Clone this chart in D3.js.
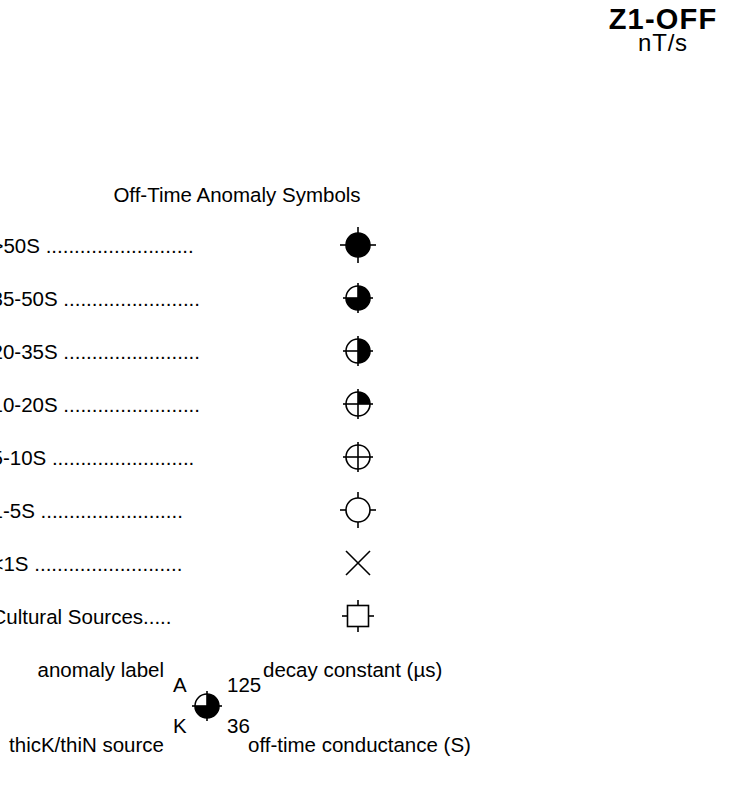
<!DOCTYPE html>
<html>
<head>
<meta charset="utf-8">
<script src="https://cdn.jsdelivr.net/npm/d3@7"></script>
<style>
  html, body { margin: 0; padding: 0; background: #fff; }
  svg { display: block; }
  text { font-family: "Liberation Sans", Arial, Helvetica, sans-serif; fill: #000; }
</style>
</head>
<body>
<script>
// Off-time anomaly legend for the Z1-OFF channel
const channelName = "Z1-OFF";
const channelUnits = "nT/s";
const legendTitle = "Off-Time Anomaly Symbols";

// conductance classes, leader dots after each label, and the symbol drawn for each
const conductanceClasses = [">50S", "35-50S", "20-35S", "10-20S", "5-10S", "1-5S", "<1S", "Cultural Sources"];
const leaderDots = [26, 24, 24, 24, 25, 25, 26, 5];
const symbolKinds = ["full", "threeQuarter", "half", "quarter", "cross", "ring", "x", "square"];

// annotated example anomaly
const exampleLabel = "A";
const exampleSource = "K";
const exampleDecay = 125;
const exampleConductance = 36;
const exampleKind = "threeQuarter";
const exampleNotes = ["anomaly label", "decay constant (\u00b5s)", "thicK/thiN source", "off-time conductance (S)"];

const W = 750, H = 798;
const svg = d3.select("body").append("svg").attr("width", W).attr("height", H);

const FS = 20.5;
const R = 12;          // symbol radius
const SW = 1.6;        // symbol stroke width

// row positions
const yRow = d3.scalePoint().domain(conductanceClasses).range([245, 616]);
const symbolX = 358;

// header
svg.append("text").attr("x", 663).attr("y", 29).attr("text-anchor", "middle")
  .style("font-size", "29px").style("font-weight", "bold").style("letter-spacing", "1.2px")
  .text(channelName);
svg.append("text").attr("x", 663).attr("y", 51).attr("text-anchor", "middle")
  .style("font-size", "24px").style("letter-spacing", "0.8px").text(channelUnits);

svg.append("text").attr("x", 237).attr("y", 202).attr("text-anchor", "middle")
  .style("font-size", FS + "px").text(legendTitle);

// filled fraction of each circle symbol (d3.arc angles, clockwise from 12 o'clock)
const fillSpan = {
  full: [0, 2 * Math.PI],
  threeQuarter: [0, 1.5 * Math.PI],
  half: [0, Math.PI],
  quarter: [0, 0.5 * Math.PI],
  cross: null,
  ring: null
};

function drawSymbol(g, kind) {
  const stroke = (sel) => sel.attr("stroke", "#000").attr("stroke-width", SW).attr("fill", "none");
  if (kind === "x") {
    const d = 12;
    stroke(g.append("line").attr("x1", -d).attr("y1", -d).attr("x2", d).attr("y2", d));
    stroke(g.append("line").attr("x1", -d).attr("y1", d).attr("x2", d).attr("y2", -d));
    return;
  }
  if (kind === "square") {
    const h = 10.5, t = 16;
    g.append("rect").attr("x", -h).attr("y", -h).attr("width", 2 * h).attr("height", 2 * h)
      .attr("fill", "#fff").attr("stroke", "#000").attr("stroke-width", SW);
    [[-t, 0, -h, 0], [h, 0, t, 0], [0, -t, 0, -h], [0, h, 0, t]].forEach(([a, b, c, e]) =>
      stroke(g.append("line").attr("x1", a).attr("y1", b).attr("x2", c).attr("y2", e)));
    return;
  }
  // circle based symbols
  g.append("circle").attr("r", R).attr("fill", "#fff");
  const span = fillSpan[kind];
  if (span) {
    g.append("path").attr("fill", "#000")
      .attr("d", d3.arc()({ innerRadius: 0, outerRadius: R, startAngle: span[0], endAngle: span[1] }));
  }
  if (kind === "full" || kind === "ring") {
    const t = 18;
    [[-t, 0, -R, 0], [R, 0, t, 0], [0, -t, 0, -R], [0, R, 0, t]].forEach(([a, b, c, e]) =>
      stroke(g.append("line").attr("x1", a).attr("y1", b).attr("x2", c).attr("y2", e)));
  } else {
    const t = 15;
    stroke(g.append("line").attr("x1", -t).attr("y1", 0).attr("x2", t).attr("y2", 0));
    stroke(g.append("line").attr("x1", 0).attr("y1", -t).attr("x2", 0).attr("y2", t));
  }
  g.append("circle").attr("r", R).attr("fill", "none").attr("stroke", "#000").attr("stroke-width", SW);
}

// legend rows
const rows = svg.selectAll("g.row").data(conductanceClasses).enter().append("g").attr("class", "row");
rows.append("text")
  .attr("x", -8.5)
  .attr("y", d => yRow(d) + 8)
  .style("font-size", FS + "px")
  .text((d, i) => i === conductanceClasses.length - 1 ? d + ".".repeat(leaderDots[i]) : d + " " + ".".repeat(leaderDots[i]));
rows.append("g")
  .attr("transform", d => `translate(${symbolX},${yRow(d)})`)
  .each(function (d, i) { drawSymbol(d3.select(this), symbolKinds[i]); });

// annotated example
const ex = { x: 207, y: 706 };
const eg = svg.append("g").attr("transform", `translate(${ex.x},${ex.y})`);
drawSymbol(eg, exampleKind);
const note = (x, y, t, anchor) => svg.append("text").attr("x", x).attr("y", y)
  .attr("text-anchor", anchor || "start").style("font-size", FS + "px").text(t);
note(173, 692, exampleLabel);
note(173, 733, exampleSource);
note(227, 692, String(exampleDecay));
note(227, 733, String(exampleConductance));
note(164, 677, exampleNotes[0], "end");
note(263, 677, exampleNotes[1]);
note(164, 752, exampleNotes[2], "end");
note(248, 752, exampleNotes[3]);
</script>
</body>
</html>
